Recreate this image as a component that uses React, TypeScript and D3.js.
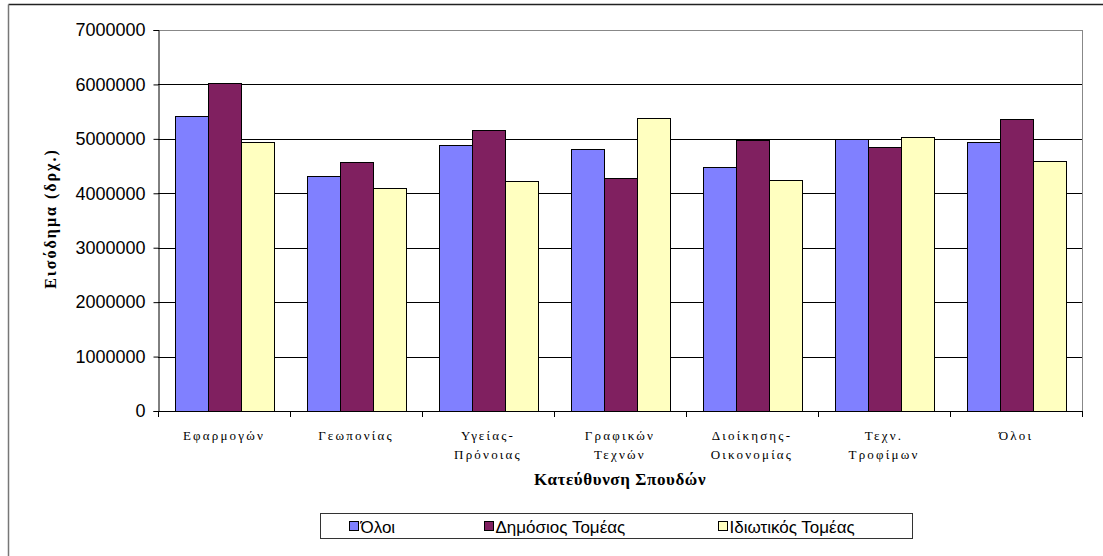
import React, { useRef, useEffect } from 'react';
import * as d3 from 'd3';

// Categories (two-line labels, as in the original chart)
const categories: string[][] = [
    ['Εφαρμογών'],
    ['Γεωπονίας'],
    ['Υγείας-', 'Πρόνοιας'],
    ['Γραφικών', 'Τεχνών'],
    ['Διοίκησης-', 'Οικονομίας'],
    ['Τεχν.', 'Τροφίμων'],
    ['Όλοι'],
];

const seriesNames = ['Όλοι', 'Δημόσιος Τομέας', 'Ιδιωτικός Τομέας'];
const seriesColors = ['#8080FF', '#802060', '#FFFFC0'];

const oloi = [5420000, 4320000, 4880000, 4820000, 4480000, 5000000, 4940000];
const dimosios = [6030000, 4570000, 5160000, 4280000, 4980000, 4850000, 5360000];
const idiotikos = [4940000, 4100000, 4220000, 5380000, 4240000, 5040000, 4600000];

const yTicks = [0, 1000000, 2000000, 3000000, 4000000, 5000000, 6000000, 7000000];

const WIDTH = 1103;
const HEIGHT = 556;

const IncomeBarChart: React.FC = () => {
    const svgRef = useRef<SVGSVGElement | null>(null);

    useEffect(() => {
        const svg = d3.select(svgRef.current);
        svg.selectAll('*').remove();

        const margin = { top: 30, right: 21, bottom: 145, left: 158 };
        const innerWidth = WIDTH - margin.left - margin.right;
        const innerHeight = HEIGHT - margin.top - margin.bottom;

        // outer chart frame (only top and left are visible)
        svg.append('line')
            .attr('x1', 8.5).attr('x2', WIDTH).attr('y1', 4.5).attr('y2', 4.5)
            .attr('stroke', '#222').attr('stroke-width', 1.5);
        svg.append('line')
            .attr('x1', 8.5).attr('x2', 8.5).attr('y1', 4.5).attr('y2', HEIGHT)
            .attr('stroke', '#777').attr('stroke-width', 1.5);

        const g = svg.append('g')
            .attr('transform', `translate(${margin.left},${margin.top})`);

        const keys = categories.map((_, i) => i.toString());
        const x0 = d3.scaleBand<string>()
            .domain(keys)
            .range([0, innerWidth])
            .paddingInner(0);

        const x1 = d3.scaleBand<string>()
            .domain(seriesNames)
            .range([0, x0.bandwidth()])
            .paddingOuter(0.5)
            .paddingInner(0);

        const y = d3.scaleLinear()
            .domain([0, 7000000])
            .range([innerHeight, 0]);

        // gridlines
        g.selectAll('.grid')
            .data(yTicks.slice(1))
            .enter()
            .append('line')
            .attr('x1', 0)
            .attr('x2', innerWidth)
            .attr('y1', d => Math.round(y(d)) + 0.5)
            .attr('y2', d => Math.round(y(d)) + 0.5)
            .attr('stroke', (d, i) => (i === yTicks.length - 2 ? '#888' : '#000'))
            .attr('stroke-width', 1);

        // right border of plot area
        g.append('line')
            .attr('x1', innerWidth + 0.5).attr('x2', innerWidth + 0.5)
            .attr('y1', 0).attr('y2', innerHeight)
            .attr('stroke', '#888');

        // bars
        const allSeries = [oloi, dimosios, idiotikos];
        allSeries.forEach((values, si) => {
            g.selectAll(`.bar-${si}`)
                .data(values)
                .enter()
                .append('rect')
                .attr('x', (d, i) => Math.round((x0(keys[i]) as number) + (x1(seriesNames[si]) as number)) + 0.5)
                .attr('y', d => Math.round(y(d)) + 0.5)
                .attr('width', Math.round(x1.bandwidth()))
                .attr('height', d => Math.round(y(0)) - Math.round(y(d)))
                .attr('fill', seriesColors[si])
                .attr('stroke', '#000')
                .attr('stroke-width', 1);
        });

        // Y axis
        const yAxis = d3.axisLeft(y)
            .tickValues(yTicks)
            .tickSize(5)
            .tickPadding(8)
            .tickFormat(d3.format('d'));
        const yg = g.append('g').attr('transform', 'translate(0.5,0)').call(yAxis);
        yg.select('.domain').attr('stroke', '#000');
        yg.selectAll('.tick line').attr('stroke', '#000');
        yg.selectAll('.tick text')
            .attr('font-family', 'Liberation Sans, Arial, sans-serif')
            .attr('font-size', 18)
            .attr('fill', '#000');

        // X axis with ticks on category boundaries
        g.append('line')
            .attr('x1', 0).attr('x2', innerWidth)
            .attr('y1', innerHeight + 0.5).attr('y2', innerHeight + 0.5)
            .attr('stroke', '#000');
        const boundaries = keys.map(k => x0(k) as number).concat([innerWidth]);
        g.selectAll('.xtick')
            .data(boundaries)
            .enter()
            .append('line')
            .attr('x1', d => Math.round(d) + 0.5)
            .attr('x2', d => Math.round(d) + 0.5)
            .attr('y1', innerHeight)
            .attr('y2', innerHeight + 6)
            .attr('stroke', '#000');

        // category labels
        categories.forEach((lines, i) => {
            const cx = (x0(keys[i]) as number) + x0.bandwidth() / 2;
            const t = g.append('text')
                .attr('x', cx)
                .attr('y', innerHeight + 29)
                .attr('text-anchor', 'middle')
                .attr('font-family', 'Liberation Serif, Times New Roman, serif')
                .attr('font-size', 13)
                .attr('letter-spacing', 2.2)
                .attr('fill', '#000');
            lines.forEach((line, li) => {
                t.append('tspan')
                    .attr('x', cx)
                    .attr('dy', li === 0 ? 0 : 19)
                    .text(line);
            });
        });

        // axis titles
        g.append('text')
            .attr('x', innerWidth / 2)
            .attr('y', innerHeight + 74)
            .attr('text-anchor', 'middle')
            .attr('font-family', 'Liberation Serif, Times New Roman, serif')
            .attr('font-weight', 'bold')
            .attr('font-size', 17)
            .attr('letter-spacing', 0.6)
            .attr('fill', '#000')
            .text('Κατεύθυνση Σπουδών');

        g.append('text')
            .attr('transform', 'rotate(-90)')
            .attr('x', -innerHeight / 2 + 2)
            .attr('y', -102)
            .attr('text-anchor', 'middle')
            .attr('font-family', 'Liberation Serif, Times New Roman, serif')
            .attr('font-weight', 'bold')
            .attr('font-size', 16)
            .attr('letter-spacing', 2)
            .attr('fill', '#000')
            .text('Εισόδημα (δρχ.)');

        // legend
        const legend = svg.append('g').attr('transform', 'translate(320.5,513.5)');
        legend.append('rect')
            .attr('width', 592)
            .attr('height', 25)
            .attr('fill', '#fff')
            .attr('stroke', '#333');
        const legendX = [29, 164, 398];
        seriesNames.forEach((name, i) => {
            legend.append('rect')
                .attr('x', legendX[i])
                .attr('y', 8)
                .attr('width', 9)
                .attr('height', 9)
                .attr('fill', seriesColors[i])
                .attr('stroke', '#000');
            legend.append('text')
                .attr('x', legendX[i] + 11)
                .attr('y', 19)
                .attr('font-family', 'Liberation Sans, Arial, sans-serif')
                .attr('font-size', 17)
                .attr('fill', '#000')
                .text(name);
        });
    }, []);

    return (
        <svg
            ref={svgRef}
            width={WIDTH}
            height={HEIGHT}
            style={{ position: 'absolute', left: 0, top: 0, background: '#fff' }}
        ></svg>
    );
};

export default function App() {
    return <IncomeBarChart />;
}
